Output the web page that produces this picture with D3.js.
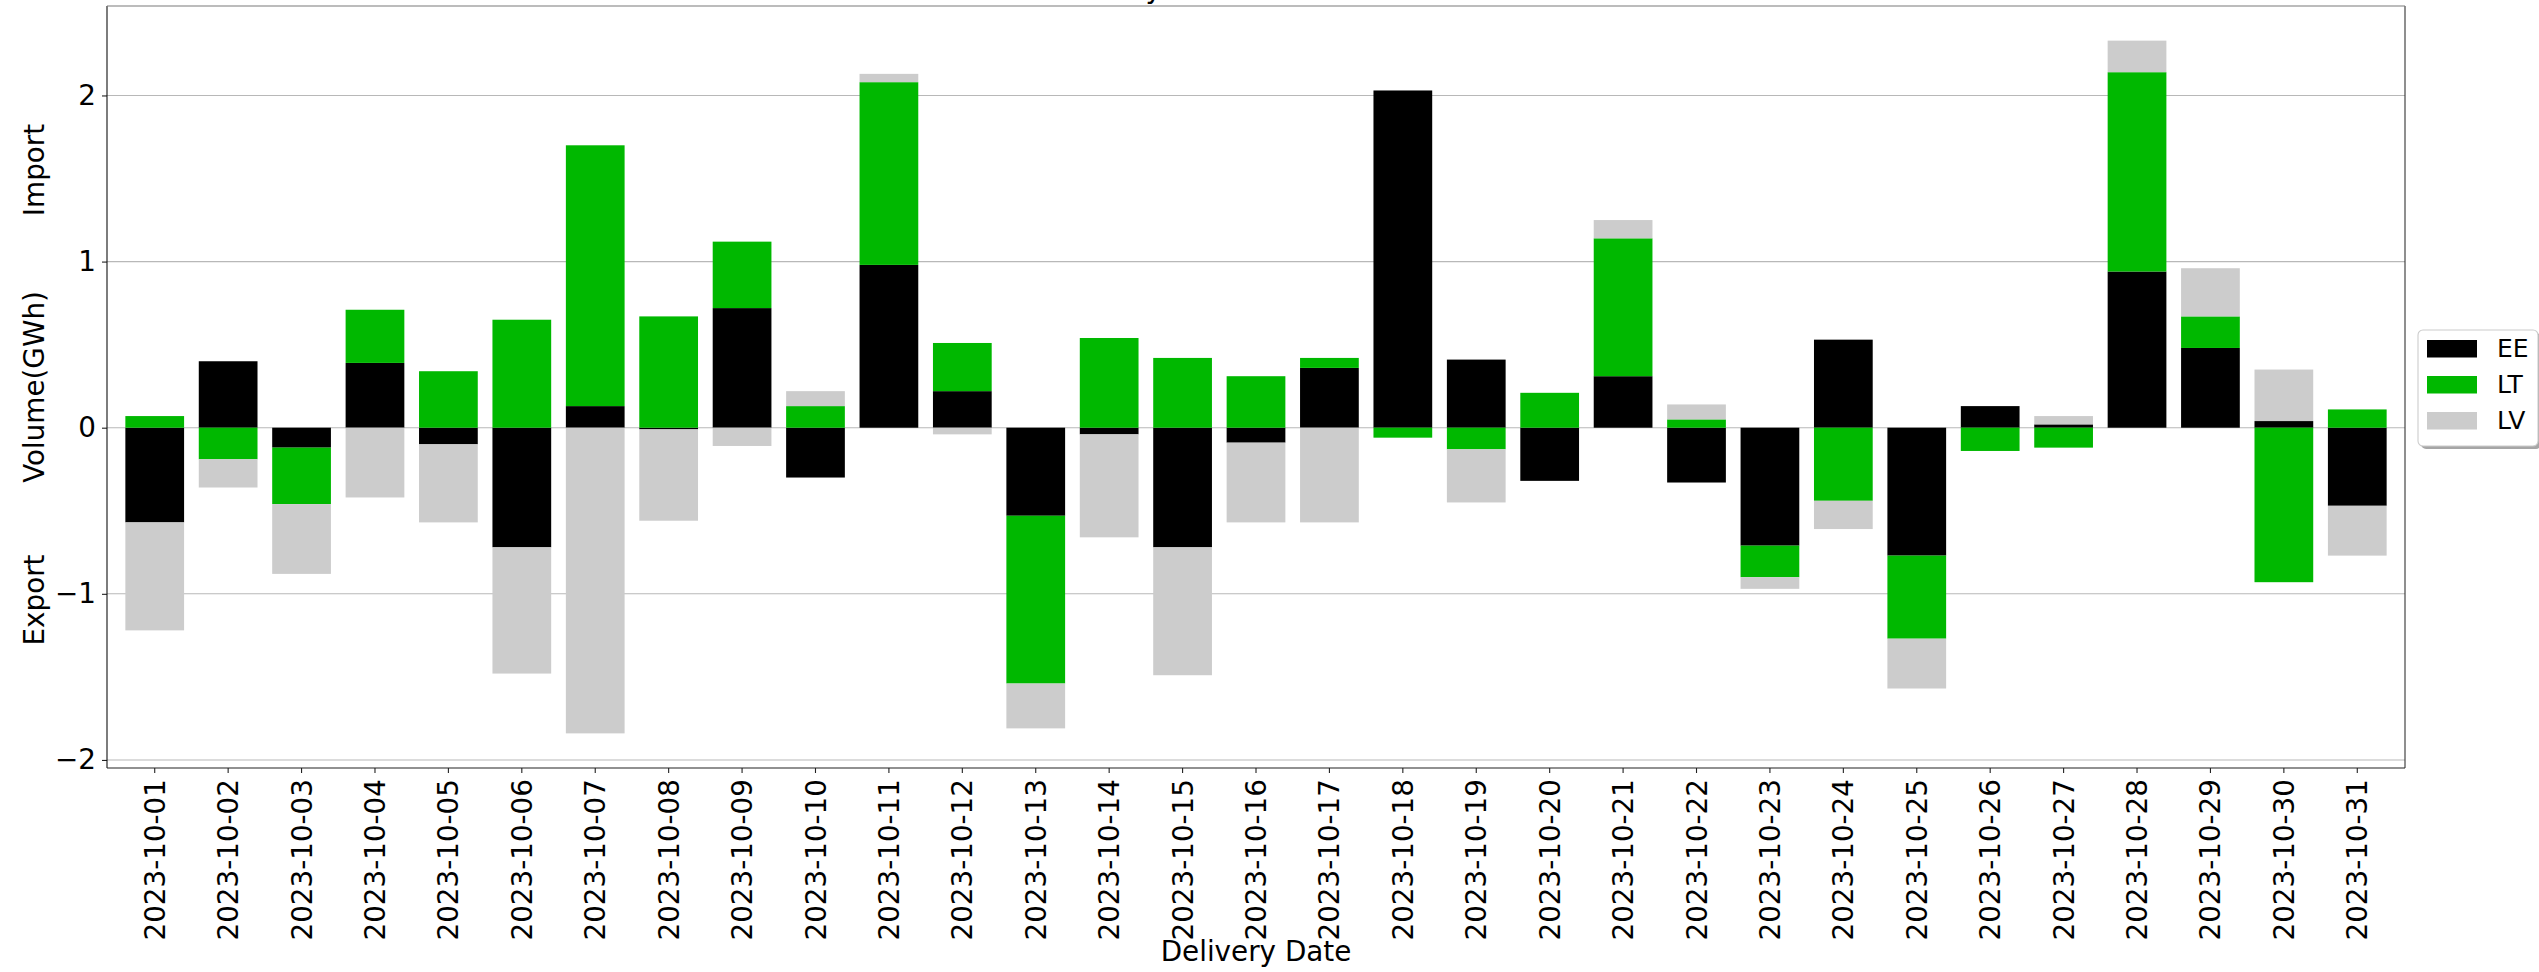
<!DOCTYPE html>
<html>
<head>
<meta charset="utf-8">
<script src="https://cdn.jsdelivr.net/npm/d3@7"></script>
<style>
  html, body { margin: 0; padding: 0; background: #ffffff; }
  svg { display: block; font-family: "DejaVu Sans", sans-serif; }
</style>
</head>
<body>
<svg id="chart" width="2539" height="972"></svg>
<script>
// Delivery dates (x categories)
const dates = [
  "2023-10-01","2023-10-02","2023-10-03","2023-10-04","2023-10-05","2023-10-06","2023-10-07",
  "2023-10-08","2023-10-09","2023-10-10","2023-10-11","2023-10-12","2023-10-13","2023-10-14",
  "2023-10-15","2023-10-16","2023-10-17","2023-10-18","2023-10-19","2023-10-20","2023-10-21",
  "2023-10-22","2023-10-23","2023-10-24","2023-10-25","2023-10-26","2023-10-27","2023-10-28",
  "2023-10-29","2023-10-30","2023-10-31"
];

// Net volume per border, GWh (positive = import, negative = export)
const EE = [-0.57, 0.40, -0.12, 0.39, -0.10, -0.72, 0.13, -0.01, 0.72, -0.30, 0.98, 0.22, -0.53, -0.04, -0.72, -0.09,
             0.36, 2.03, 0.41, -0.32, 0.31, -0.33, -0.71, 0.53, -0.77, 0.13, 0.02, 0.94, 0.48, 0.04, -0.47];
const LT = [ 0.07, -0.19, -0.34, 0.32, 0.34, 0.65, 1.57, 0.67, 0.40, 0.13, 1.10, 0.29, -1.01, 0.54, 0.42, 0.31,
             0.06, -0.06, -0.13, 0.21, 0.83, 0.05, -0.19, -0.44, -0.50, -0.14, -0.12, 1.20, 0.19, -0.93, 0.11];
const LV = [-0.65, -0.17, -0.42, -0.42, -0.47, -0.76, -1.84, -0.55, -0.11, 0.09, 0.05, -0.04, -0.27, -0.62, -0.77, -0.48,
            -0.57, 0.00, -0.32, 0.00, 0.11, 0.09, -0.07, -0.17, -0.30, 0.00, 0.05, 0.19, 0.29, 0.31, -0.30];

const seriesKeys = ["EE", "LT", "LV"];
const seriesColors = ["#000000", "#00b800", "#cccccc"];
const yTicks = [-2, -1, 0, 1, 2];

const chartTitle = "Monthly Cross-Border Volume";
const xTitle = "Delivery Date";
const yTitle = "Volume(GWh)";
const yUpper = "Import";
const yLower = "Export";

// ---- layout ----
const plot = { left: 107, right: 2405, top: 6, bottom: 768 };
const FS = 27.8;       // tick / axis label size
const LEG_FS = 25;     // legend text size

const svg = d3.select("#chart");

// Table for stacking
const rows = dates.map((d, i) => ({ date: d, EE: EE[i], LT: LT[i], LV: LV[i] }));
const stacked = d3.stack().keys(seriesKeys).offset(d3.stackOffsetDiverging)(rows);

const x = d3.scaleBand()
  .domain(dates)
  .range([plot.left, plot.right])
  .paddingInner(0.2)
  .paddingOuter(0.25);

const lo = d3.min(stacked, s => d3.min(s, d => d[0]));
const hi = d3.max(stacked, s => d3.max(s, d => d[1]));
const pad = (hi - lo) * 0.05;
const y = d3.scaleLinear().domain([lo - pad, hi + pad]).range([plot.bottom, plot.top]);

const color = d3.scaleOrdinal().domain(seriesKeys).range(seriesColors);

// Horizontal grid lines (behind bars)
svg.append("g").attr("class", "grid")
  .selectAll("line")
  .data(yTicks)
  .join("line")
  .attr("x1", plot.left).attr("x2", plot.right)
  .attr("y1", d => y(d)).attr("y2", d => y(d))
  .attr("stroke", "#b8b8b8")
  .attr("stroke-width", 1.1);

// Stacked bars
svg.append("g").attr("class", "bars")
  .selectAll("g")
  .data(stacked)
  .join("g")
  .attr("fill", s => color(s.key))
  .selectAll("rect")
  .data(s => s)
  .join("rect")
  .attr("x", d => x(d.data.date))
  .attr("width", x.bandwidth())
  .attr("y", d => y(Math.max(d[0], d[1])))
  .attr("height", d => Math.abs(y(d[0]) - y(d[1])));

// Axes
const fmt = d => (d < 0 ? "\u2212" + Math.abs(d) : String(d));

const yAxis = svg.append("g")
  .attr("transform", `translate(${plot.left},0)`)
  .call(d3.axisLeft(y).tickValues(yTicks).tickFormat(fmt).tickSize(5).tickPadding(6));
yAxis.select(".domain").remove();
yAxis.selectAll(".tick line").attr("stroke", "#222").attr("stroke-width", 1.1);
yAxis.selectAll(".tick text")
  .attr("font-size", FS)
  .attr("font-family", "DejaVu Sans")
  .attr("fill", "#000");

const xAxis = svg.append("g")
  .attr("transform", `translate(0,${plot.bottom})`)
  .call(d3.axisBottom(x).tickSize(5).tickPadding(6));
xAxis.select(".domain").remove();
xAxis.selectAll(".tick line").attr("stroke", "#222").attr("stroke-width", 1.1);
xAxis.selectAll(".tick text")
  .attr("font-size", FS)
  .attr("font-family", "DejaVu Sans")
  .attr("fill", "#000")
  .attr("transform", "rotate(-90)")
  .attr("x", -11)
  .attr("y", 0)
  .attr("dy", "0.36em")
  .attr("text-anchor", "end");

// Spines
const spines = svg.append("g").attr("fill", "none").attr("stroke-width", 1.1);
spines.append("line").attr("x1", plot.left).attr("x2", plot.left).attr("y1", plot.top).attr("y2", plot.bottom).attr("stroke", "#111");
spines.append("line").attr("x1", plot.right).attr("x2", plot.right).attr("y1", plot.top).attr("y2", plot.bottom).attr("stroke", "#333");
spines.append("line").attr("x1", plot.left).attr("x2", plot.right).attr("y1", plot.bottom).attr("y2", plot.bottom).attr("stroke", "#222");
spines.append("line").attr("x1", plot.left).attr("x2", plot.right).attr("y1", plot.top).attr("y2", plot.top).attr("stroke", "#7a7a7a");

// Title (sits above the top edge)
svg.append("text")
  .attr("x", (plot.left + plot.right) / 2)
  .attr("y", -2)
  .attr("text-anchor", "middle")
  .attr("font-size", FS)
  .attr("fill", "#000")
  .text(chartTitle);

// X axis title
svg.append("text")
  .attr("x", (plot.left + plot.right) / 2)
  .attr("y", 961)
  .attr("text-anchor", "middle")
  .attr("font-size", FS)
  .attr("fill", "#000")
  .text(xTitle);

// Y axis titles
const yMid = (plot.top + plot.bottom) / 2;
[[yUpper, 170], [yTitle, yMid], [yLower, 600]].forEach(([t, cy]) => {
  svg.append("text")
    .attr("transform", `translate(44,${cy}) rotate(-90)`)
    .attr("text-anchor", "middle")
    .attr("font-size", FS)
    .attr("fill", "#000")
    .text(t);
});

// Legend
const leg = svg.append("g").attr("transform", "translate(2418,330)");
const legW = 120, legH = 116;
leg.append("rect")
  .attr("x", 3).attr("y", 3).attr("width", legW).attr("height", legH)
  .attr("rx", 5).attr("fill", "#000").attr("opacity", 0.35);
leg.append("rect")
  .attr("x", 0).attr("y", 0).attr("width", legW).attr("height", legH)
  .attr("rx", 5).attr("fill", "#ffffff").attr("stroke", "#cccccc").attr("stroke-width", 1.1);
const items = leg.selectAll("g.item")
  .data(seriesKeys)
  .join("g")
  .attr("class", "item")
  .attr("transform", (d, i) => `translate(9,${10 + i * 36})`);
items.append("rect")
  .attr("width", 50).attr("height", 17.5)
  .attr("fill", d => color(d));
items.append("text")
  .attr("x", 70).attr("y", 17)
  .attr("font-size", LEG_FS)
  .attr("fill", "#000")
  .text(d => d);
</script>
</body>
</html>
